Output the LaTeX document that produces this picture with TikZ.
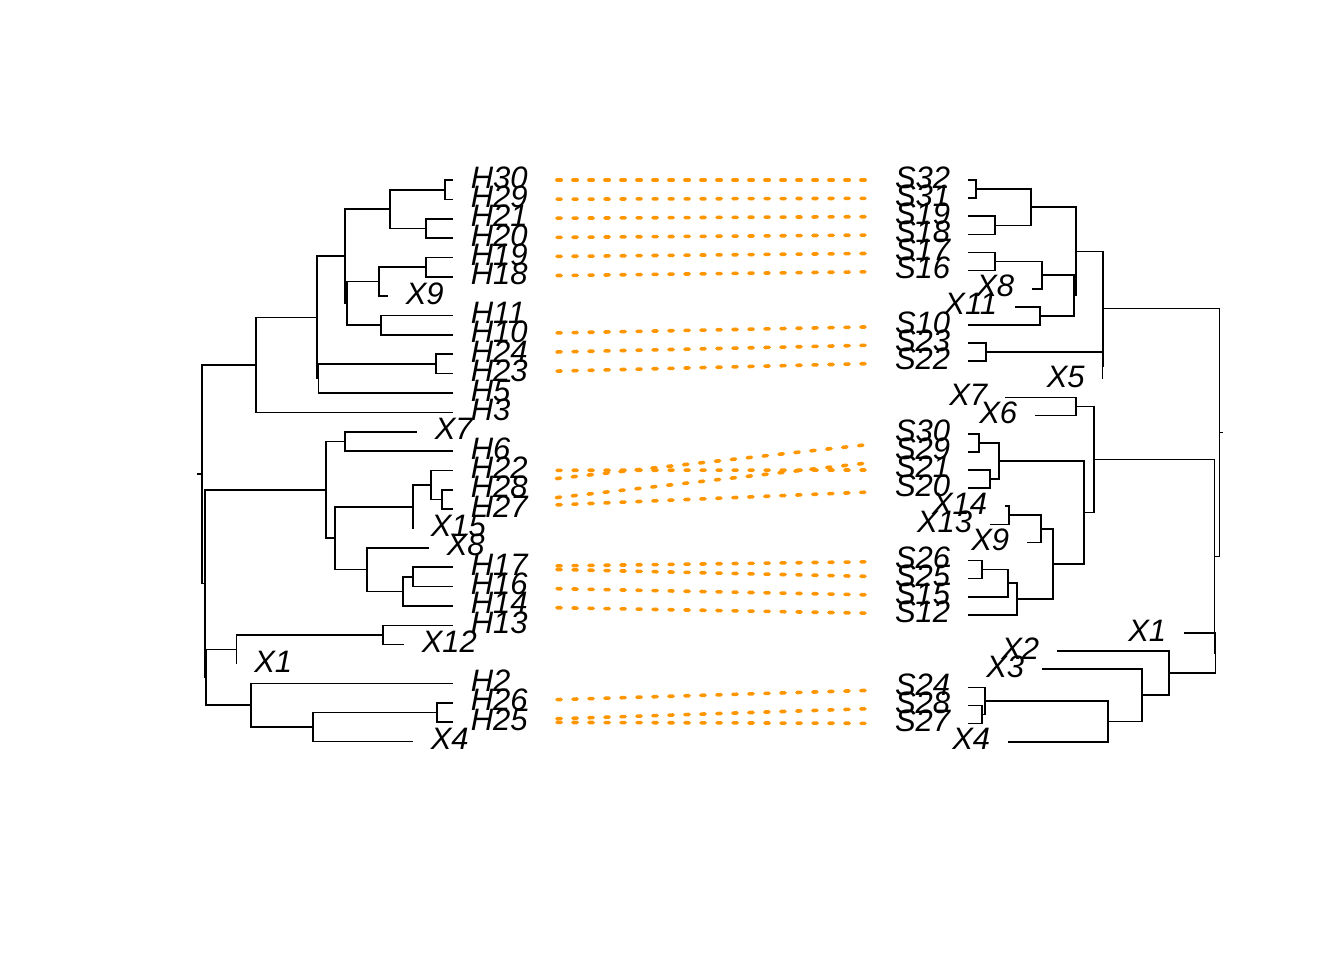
\documentclass[tikz,border=0pt]{standalone}
\usepackage{fontspec}
\setmainfont{Liberation Sans}
\usepackage{tikz}
\definecolor{linkorange}{RGB}{255,150,0}

\begin{document}
\begin{tikzpicture}[x=0.5pt, y=-0.5pt, line width=0.8pt,
    hlab/.style={anchor=base west, inner sep=0pt, xshift=8.5pt, yshift=-4pt,
        font=\fontsize{15.5}{15.5}\selectfont\itshape},
    slab/.style={anchor=base east, inner sep=0pt, xshift=-8.5pt, yshift=-4pt,
        font=\fontsize{15.5}{15.5}\selectfont\itshape},
    link/.style={linkorange, line width=1.8pt, line cap=round,
        dash pattern=on 2.1pt off 5.9pt, shorten <=52pt, shorten >=51.5pt}]
        \useasboundingbox (0,0) rectangle (1344,960);

        % 왼쪽 나무의 잎 (H, X)
        \coordinate (tH30) at (453,180.0);  \node[hlab] (H30) at (tH30) {H30};
        \coordinate (tH29) at (453,199.4);  \node[hlab] (H29) at (tH29) {H29};
        \coordinate (tH21) at (453,218.7);  \node[hlab] (H21) at (tH21) {H21};
        \coordinate (tH20) at (453,238.1);  \node[hlab] (H20) at (tH20) {H20};
        \coordinate (tH19) at (453,257.4);  \node[hlab] (H19) at (tH19) {H19};
        \coordinate (tH18) at (453,276.8);  \node[hlab] (H18) at (tH18) {H18};
        \coordinate (tLX9) at (388,296.2);  \node[hlab] (LX9) at (tLX9) {X9};
        \coordinate (tH11) at (453,315.5);  \node[hlab] (H11) at (tH11) {H11};
        \coordinate (tH10) at (453,334.9);  \node[hlab] (H10) at (tH10) {H10};
        \coordinate (tH24) at (453,354.2);  \node[hlab] (H24) at (tH24) {H24};
        \coordinate (tH23) at (453,373.6);  \node[hlab] (H23) at (tH23) {H23};
        \coordinate (tH5) at (453,393.0);   \node[hlab] (H5) at (tH5) {H5};
        \coordinate (tH3) at (453,412.3);   \node[hlab] (H3) at (tH3) {H3};
        \coordinate (tLX7) at (417,431.7);  \node[hlab] (LX7) at (tLX7) {X7};
        \coordinate (tH6) at (453,451.0);   \node[hlab] (H6) at (tH6) {H6};
        \coordinate (tH22) at (453,470.4);  \node[hlab] (H22) at (tH22) {H22};
        \coordinate (tH28) at (453,489.8);  \node[hlab] (H28) at (tH28) {H28};
        \coordinate (tH27) at (453,509.1);  \node[hlab] (H27) at (tH27) {H27};
        \coordinate (tLX15) at (413,528.5); \node[hlab] (LX15) at (tLX15) {X15};
        \coordinate (tLX8) at (429,547.8);  \node[hlab] (LX8) at (tLX8) {X8};
        \coordinate (tH17) at (453,567.2);  \node[hlab] (H17) at (tH17) {H17};
        \coordinate (tH16) at (453,586.6);  \node[hlab] (H16) at (tH16) {H16};
        \coordinate (tH14) at (453,605.9);  \node[hlab] (H14) at (tH14) {H14};
        \coordinate (tH13) at (453,625.3);  \node[hlab] (H13) at (tH13) {H13};
        \coordinate (tLX12) at (404,644.6); \node[hlab] (LX12) at (tLX12) {X12};
        \coordinate (tLX1) at (236.5,664.0); \node[hlab] (LX1) at (tLX1) {X1};
        \coordinate (tH2) at (453,683.4);   \node[hlab] (H2) at (tH2) {H2};
        \coordinate (tH26) at (453,702.7);  \node[hlab] (H26) at (tH26) {H26};
        \coordinate (tH25) at (453,722.1);  \node[hlab] (H25) at (tH25) {H25};
        \coordinate (tLX4) at (413,741.4);  \node[hlab] (LX4) at (tLX4) {X4};

        % 왼쪽 나무의 내부 마디
        \coordinate (a1) at (445,189.7);   \coordinate (a2) at (426,228.4);
        \coordinate (a3) at (390,209.05);  \coordinate (a4) at (426,267.1);
        \coordinate (a5) at (379,281.65);  \coordinate (a6) at (381,325.2);
        \coordinate (a7) at (347,303.4);   \coordinate (a8) at (345,256.2);
        \coordinate (a9) at (436,363.9);   \coordinate (a10) at (318.5,378.45);
        \coordinate (a11) at (317,317.3);  \coordinate (a12) at (256,364.8);
        \coordinate (b1) at (345,441.35);  \coordinate (b2) at (442,499.45);
        \coordinate (b3) at (431,484.9);   \coordinate (b4) at (413,506.7);
        \coordinate (b5) at (413,576.9);   \coordinate (b6) at (403,591.4);
        \coordinate (b7) at (367,569.6);   \coordinate (b8) at (335,538.15);
        \coordinate (b9) at (326,489.75);  \coordinate (c1) at (383,634.95);
        \coordinate (c2) at (236.5,649.5); \coordinate (c3) at (437,712.4);
        \coordinate (c4) at (313,726.9);   \coordinate (c5) at (251,705.15);
        \coordinate (c6) at (206,677.3);   \coordinate (c7) at (205,583.5);
        \coordinate (rL) at (201.7,474.2);

        % 왼쪽 나무의 가지
        \draw (a1) |- (tH30) (a1) |- (tH29);
        \draw (a2) |- (tH21) (a2) |- (tH20);
        \draw (a3) |- (a1) (a3) |- (a2);
        \draw (a4) |- (tH19) (a4) |- (tH18);
        \draw (a5) |- (a4) (a5) |- (tLX9);
        \draw (a6) |- (tH11) (a6) |- (tH10);
        \draw (a7) |- (a5) (a7) |- (a6);
        \draw (a8) |- (a3) (a8) |- (a7);
        \draw (a9) |- (tH24) (a9) |- (tH23);
        \draw (a10) |- (a9) (a10) |- (tH5);
        \draw (a11) |- (a8) (a11) |- (a10);
        \draw (a12) |- (a11) (a12) |- (tH3);
        \draw (b1) |- (tLX7) (b1) |- (tH6);
        \draw (b2) |- (tH28) (b2) |- (tH27);
        \draw (b3) |- (tH22) (b3) |- (b2);
        \draw (b4) |- (b3) (b4) |- (tLX15);
        \draw (b5) |- (tH17) (b5) |- (tH16);
        \draw (b6) |- (b5) (b6) |- (tH14);
        \draw (b7) |- (tLX8) (b7) |- (b6);
        \draw (b8) |- (b4) (b8) |- (b7);
        \draw (b9) |- (b1) (b9) |- (b8);
        \draw (c1) |- (tH13) (c1) |- (tLX12);
        \draw (c2) |- (c1) (c2) |- (tLX1);
        \draw (c3) |- (tH26) (c3) |- (tH25);
        \draw (c4) |- (c3) (c4) |- (tLX4);
        \draw (c5) |- (tH2) (c5) |- (c4);
        \draw (c6) |- (c2) (c6) |- (c5);
        \draw (c7) |- (b9) (c7) |- (c6);
        \draw (rL) |- (a12) (rL) |- (c7);
        \draw (rL) -- ++(-4.5,0);

        % 오른쪽 나무의 잎 (S, X)
        \coordinate (tS32) at (968,180.0);    \node[slab] (S32) at (tS32) {S32};
        \coordinate (tS31) at (968,198.1);    \node[slab] (S31) at (tS31) {S31};
        \coordinate (tS19) at (968,216.2);    \node[slab] (S19) at (tS19) {S19};
        \coordinate (tS18) at (968,234.4);    \node[slab] (S18) at (tS18) {S18};
        \coordinate (tS17) at (968,252.5);    \node[slab] (S17) at (tS17) {S17};
        \coordinate (tS16) at (968,270.6);    \node[slab] (S16) at (tS16) {S16};
        \coordinate (tRX8) at (1032,288.7);   \node[slab] (RX8) at (tRX8) {X8};
        \coordinate (tRX11) at (1015,306.8);  \node[slab] (RX11) at (tRX11) {X11};
        \coordinate (tS10) at (968,325.0);    \node[slab] (S10) at (tS10) {S10};
        \coordinate (tS23) at (968,343.1);    \node[slab] (S23) at (tS23) {S23};
        \coordinate (tS22) at (968,361.2);    \node[slab] (S22) at (tS22) {S22};
        \coordinate (tRX5) at (1102.5,379.3); \node[slab] (RX5) at (tRX5) {X5};
        \coordinate (tRX7) at (1005,397.4);   \node[slab] (RX7) at (tRX7) {X7};
        \coordinate (tRX6) at (1035,415.6);   \node[slab] (RX6) at (tRX6) {X6};
        \coordinate (tS30) at (968,433.7);    \node[slab] (S30) at (tS30) {S30};
        \coordinate (tS29) at (968,451.8);    \node[slab] (S29) at (tS29) {S29};
        \coordinate (tS21) at (968,469.9);    \node[slab] (S21) at (tS21) {S21};
        \coordinate (tS20) at (968,488.0);    \node[slab] (S20) at (tS20) {S20};
        \coordinate (tRX14) at (1005,506.2);  \node[slab] (RX14) at (tRX14) {X14};
        \coordinate (tRX13) at (990,524.3);   \node[slab] (RX13) at (tRX13) {X13};
        \coordinate (tRX9) at (1027,542.4);   \node[slab] (RX9) at (tRX9) {X9};
        \coordinate (tS26) at (968,560.5);    \node[slab] (S26) at (tS26) {S26};
        \coordinate (tS25) at (968,578.6);    \node[slab] (S25) at (tS25) {S25};
        \coordinate (tS15) at (968,596.8);    \node[slab] (S15) at (tS15) {S15};
        \coordinate (tS12) at (968,614.9);    \node[slab] (S12) at (tS12) {S12};
        \coordinate (tRX1) at (1184,633.0);   \node[slab] (RX1) at (tRX1) {X1};
        \coordinate (tRX2) at (1057,651.1);   \node[slab] (RX2) at (tRX2) {X2};
        \coordinate (tRX3) at (1042,669.2);   \node[slab] (RX3) at (tRX3) {X3};
        \coordinate (tS24) at (968,687.4);    \node[slab] (S24) at (tS24) {S24};
        \coordinate (tS28) at (968,705.5);    \node[slab] (S28) at (tS28) {S28};
        \coordinate (tS27) at (968,723.6);    \node[slab] (S27) at (tS27) {S27};
        \coordinate (tRX4) at (1008,741.7);   \node[slab] (RX4) at (tRX4) {X4};

        % 오른쪽 나무의 내부 마디
        \coordinate (d1) at (976,189.05);    \coordinate (d2) at (995,225.3);
        \coordinate (d3) at (1031,207.2);    \coordinate (d4) at (995,261.55);
        \coordinate (d5) at (1042,275.1);    \coordinate (d6) at (1040,315.9);
        \coordinate (d7) at (1074,295.5);    \coordinate (d8) at (1076,251.35);
        \coordinate (d9) at (986,352.15);    \coordinate (d10) at (1102.5,365.7);
        \coordinate (d11) at (1103,308.5);   \coordinate (e1) at (1076,406.5);
        \coordinate (e2) at (979,442.75);    \coordinate (e3) at (990,478.95);
        \coordinate (e4) at (999,460.85);    \coordinate (e5) at (1009,515.25);
        \coordinate (e6) at (1041,528.8);    \coordinate (e7) at (982,569.55);
        \coordinate (e8) at (1008,583.2);    \coordinate (e9) at (1017,599.05);
        \coordinate (e10) at (1053,563.9);   \coordinate (e11) at (1084,512.4);
        \coordinate (e12) at (1094,459.45);  \coordinate (f1) at (982,714.55);
        \coordinate (f2) at (985,700.95);    \coordinate (f3) at (1108,721.3);
        \coordinate (f4) at (1142,695.25);   \coordinate (f5) at (1169,673.2);
        \coordinate (f6) at (1215.5,653.1);  \coordinate (f7) at (1214.5,556.3);
        \coordinate (rR) at (1219.3,432.4);

        % 오른쪽 나무의 가지
        \draw (d1) |- (tS32) (d1) |- (tS31);
        \draw (d2) |- (tS19) (d2) |- (tS18);
        \draw (d3) |- (d1) (d3) |- (d2);
        \draw (d4) |- (tS17) (d4) |- (tS16);
        \draw (d5) |- (d4) (d5) |- (tRX8);
        \draw (d6) |- (tRX11) (d6) |- (tS10);
        \draw (d7) |- (d5) (d7) |- (d6);
        \draw (d8) |- (d3) (d8) |- (d7);
        \draw (d9) |- (tS23) (d9) |- (tS22);
        \draw (d10) |- (d9) (d10) |- (tRX5);
        \draw (d11) |- (d8) (d11) |- (d10);
        \draw (e1) |- (tRX7) (e1) |- (tRX6);
        \draw (e2) |- (tS30) (e2) |- (tS29);
        \draw (e3) |- (tS21) (e3) |- (tS20);
        \draw (e4) |- (e2) (e4) |- (e3);
        \draw (e5) |- (tRX14) (e5) |- (tRX13);
        \draw (e6) |- (e5) (e6) |- (tRX9);
        \draw (e7) |- (tS26) (e7) |- (tS25);
        \draw (e8) |- (e7) (e8) |- (tS15);
        \draw (e9) |- (e8) (e9) |- (tS12);
        \draw (e10) |- (e6) (e10) |- (e9);
        \draw (e11) |- (e4) (e11) |- (e10);
        \draw (e12) |- (e1) (e12) |- (e11);
        \draw (f1) |- (tS28) (f1) |- (tS27);
        \draw (f2) |- (tS24) (f2) |- (f1);
        \draw (f3) |- (f2) (f3) |- (tRX4);
        \draw (f4) |- (tRX3) (f4) |- (f3);
        \draw (f5) |- (tRX2) (f5) |- (f4);
        \draw (f6) |- (tRX1) (f6) |- (f5);
        \draw (f7) |- (e12) (f7) |- (f6);
        \draw (rR) |- (d11) (rR) |- (f7);
        \draw (rR) -- ++(4,0);

        % 숙주-공생체 연결 (주황 점선)
        \draw[link] (tH30) -- (tS32);
        \draw[link] (tH29) -- (tS31);
        \draw[link] (tH21) -- (tS19);
        \draw[link] (tH20) -- (tS18);
        \draw[link] (tH19) -- (tS17);
        \draw[link] (tH18) -- (tS16);
        \draw[link] (tH10) -- (tS10);
        \draw[link] (tH24) -- (tS23);
        \draw[link] (tH23) -- (tS22);
        \draw[link] (tH22) -- (tS21);
        \draw[link] (tH28) -- (tS30);
        \draw[link] (tH27) -- (tS29);
        \draw[link] (tH27) -- (tS20);
        \draw[link] (tH17) -- (tS26);
        \draw[link] (tH17) -- (tS25);
        \draw[link] (tH16) -- (tS15);
        \draw[link] (tH14) -- (tS12);
        \draw[link] (tH26) -- (tS24);
        \draw[link] (tH25) -- (tS28);
        \draw[link] (tH25) -- (tS27);

    \end{tikzpicture}
\end{document}
